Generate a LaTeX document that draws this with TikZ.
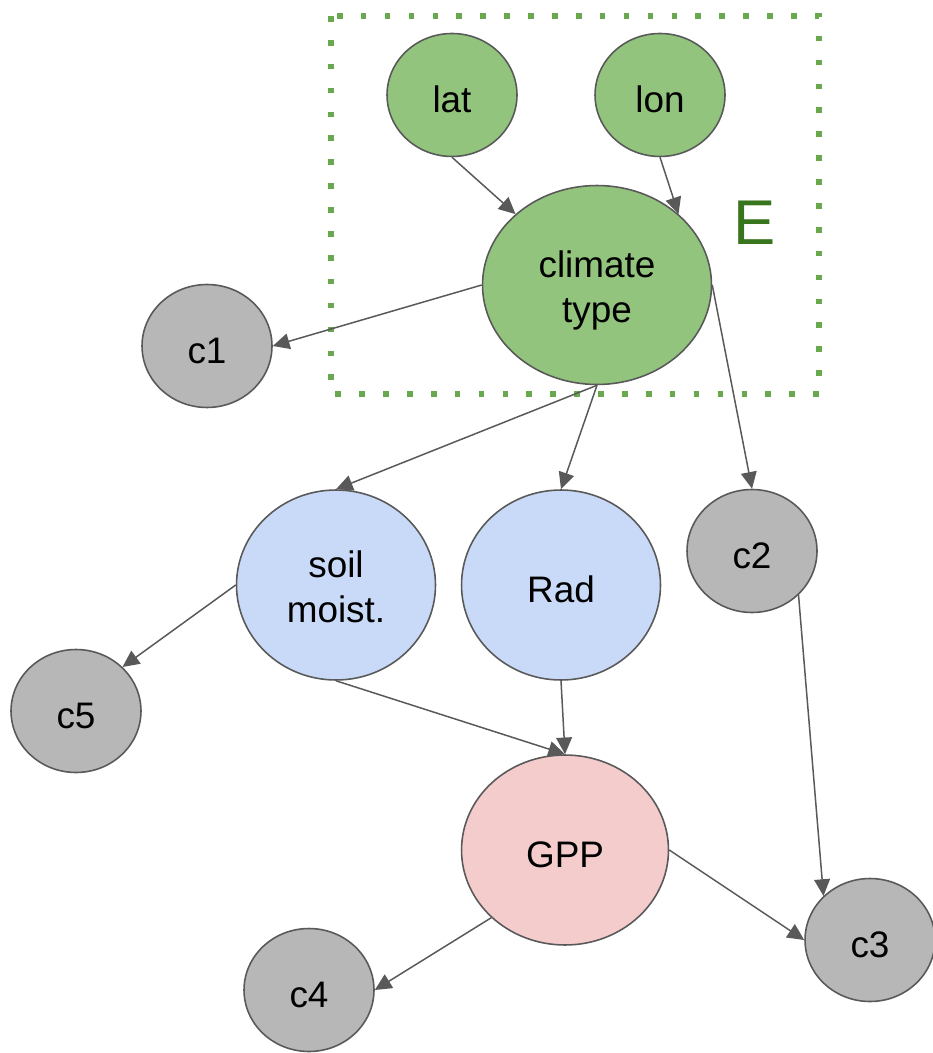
\documentclass[tikz,border=0pt]{standalone}
\usepackage{fontspec}
\setmainfont{Liberation Sans}
\usetikzlibrary{arrows.meta,shapes.geometric}
\definecolor{lgreen}{HTML}{93C47D}
\definecolor{dgreen}{HTML}{6AA84F}
\definecolor{egreen}{HTML}{38761D}
\definecolor{lblue}{HTML}{C9DAF8}
\definecolor{lpink}{HTML}{F4CCCC}
\definecolor{lgray}{HTML}{B7B7B7}
\definecolor{edge}{HTML}{595959}
\begin{document}
\begin{tikzpicture}[x=0.02cm,y=-0.02cm,
  var/.style={ellipse,draw=edge,line width=0.9pt,inner sep=0pt,align=center,
    text height=20pt,font=\fontsize{21}{25.5}\selectfont},
  twoline/.style={text height=47pt,text depth=4.8pt},
  small/.style={var,fill=lgray,minimum width=2.6cm,minimum height=2.46cm},
  geo/.style={var,fill=lgreen,minimum width=2.6cm,minimum height=2.46cm},
  link/.style={draw=edge,line width=0.85pt,-{Triangle[length=9.5pt,width=9pt]}}]
\useasboundingbox (0,0) rectangle (932,1053);
% environment box
\draw[dgreen,line width=3pt,dash pattern=on 3.2pt off 10.4pt] (331,16) rectangle (819,394);
\node[egreen,font=\fontsize{36}{40}\selectfont,anchor=base] (elabel) at (755,245) {E};
% nodes
\node[geo] (lat) at (452,95) {lat};
\node[geo] (lon) at (660,95) {lon};
\node[var,twoline,fill=lgreen,minimum width=4.58cm,minimum height=3.98cm] (climate) at (597,285) {climate\\type};
\node[small] (c1) at (207,346) {c1};
\node[var,twoline,fill=lblue,minimum width=3.98cm,minimum height=3.8cm] (soil) at (336,585) {soil\\moist.};
\node[var,fill=lblue,minimum width=3.98cm,minimum height=3.8cm] (rad) at (561,585) {Rad};
\node[small] (c2) at (752,551) {c2};
\node[small] (c5) at (76,711) {c5};
\node[var,fill=lpink,minimum width=4.14cm,minimum height=3.8cm] (gpp) at (565,850) {GPP};
\node[small] (c3) at (870,940) {c3};
\node[small] (c4) at (309,990) {c4};
% edges
\draw[link] (lat.south) -- (climate.north west);
\draw[link] (lon.south) -- (climate.north east);
\draw[link] (climate.west) -- (c1.east);
\draw[link] (climate.south) -- (soil.north);
\draw[link] (climate.south) -- (rad.north);
\draw[link] (climate.east) -- (c2.north);
\draw[link] (soil.west) -- (c5.north east);
\draw[link] (soil.south) -- (gpp.north);
\draw[link] (rad.south) -- (gpp.north);
\draw[link] (c2.south east) -- (c3.north west);
\draw[link] (gpp.east) -- (c3.west);
\draw[link] (gpp.south west) -- (c4.east);
\end{tikzpicture}
\end{document}
